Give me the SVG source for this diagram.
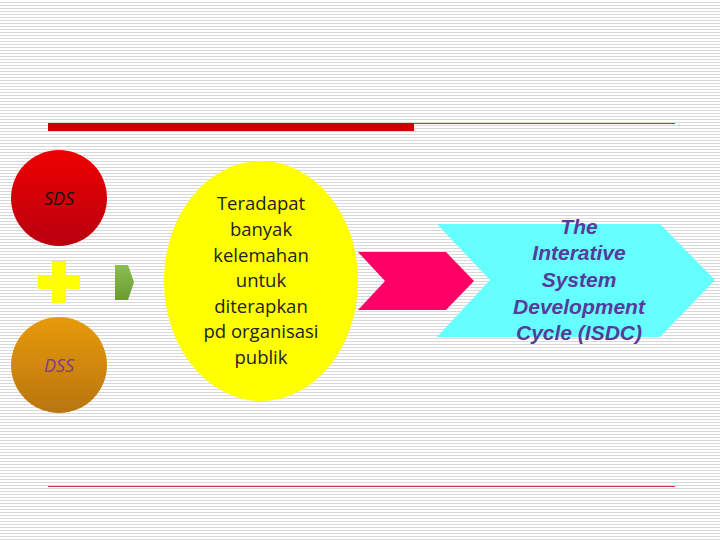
<svg xmlns="http://www.w3.org/2000/svg" width="720" height="540" viewBox="0 0 720 540">
<defs>
<pattern id="stripes" width="4" height="3" patternUnits="userSpaceOnUse"><rect width="4" height="3" fill="#ffffff"/><rect y="2" width="4" height="1" fill="#d9d9d9"/></pattern>
<linearGradient id="gr" x1="0" y1="0" x2="0" y2="1"><stop offset="0" stop-color="#ee0000"/><stop offset="1" stop-color="#b80010"/></linearGradient>
<linearGradient id="go" x1="0" y1="0" x2="0" y2="1"><stop offset="0" stop-color="#e89a0a"/><stop offset="1" stop-color="#b87510"/></linearGradient>
<linearGradient id="gg" x1="0" y1="0" x2="0" y2="1"><stop offset="0" stop-color="#8cc050"/><stop offset="1" stop-color="#6a9a30"/></linearGradient>
<style>
.t{font-family:"Open Sans","Liberation Sans",sans-serif;font-size:18.5px;fill:#222;text-anchor:middle}
.c{font-family:"Liberation Sans",sans-serif;font-size:21px;font-style:italic;font-weight:bold;fill:#553c9a;text-anchor:middle}
.s{font-family:"Open Sans","Liberation Sans",sans-serif;font-size:18px;font-style:italic;text-anchor:middle}
</style>
</defs>
<rect width="720" height="540" fill="url(#stripes)"/>
<rect x="48" y="123" width="366" height="8" fill="#cc0000"/>
<line x1="414" y1="123.5" x2="675" y2="123.5" stroke="#cc3333" stroke-width="1"/>
<line x1="48" y1="486.5" x2="675" y2="486.5" stroke="#cc3333" stroke-width="1"/>
<g id="sds"><circle cx="59" cy="198" r="48" fill="url(#gr)"/><text class="s" x="59" y="205" fill="#111">SDS</text></g>
<g id="plus"><path d="M52 261H66V275H80V289H66V303H52V289H38V275H52Z" fill="#ffff00"/></g>
<g id="dss"><circle cx="59" cy="365" r="48" fill="url(#go)"/><text class="s" x="59" y="372" fill="#7a3a9a">DSS</text></g>
<g id="connectors">
<path d="M115 265H128L134 282L128 300H115Z" fill="url(#gg)"/>
<path d="M358 252H446L474 281L446 310H358L385 281Z" fill="#ff0066"/>
</g>
<g id="weak"><ellipse cx="261" cy="281" rx="97" ry="120" fill="#ffff00"/>
<text class="t" x="261" y="210">Teradapat</text>
<text class="t" x="261" y="236">banyak</text>
<text class="t" x="261" y="262">kelemahan</text>
<text class="t" x="261" y="287">untuk</text>
<text class="t" x="261" y="313">diterapkan</text>
<text class="t" x="261" y="338">pd organisasi</text>
<text class="t" x="261" y="364">publik</text></g>
<g id="isdc"><path d="M437 224H660L715 280L660 337H437L490 280Z" fill="#66ffff"/>
<text class="c" x="579" y="234">The</text>
<text class="c" x="579" y="260">Interative</text>
<text class="c" x="579" y="287">System</text>
<text class="c" x="579" y="314">Development</text>
<text class="c" x="579" y="340">Cycle (ISDC)</text></g>
</svg>
